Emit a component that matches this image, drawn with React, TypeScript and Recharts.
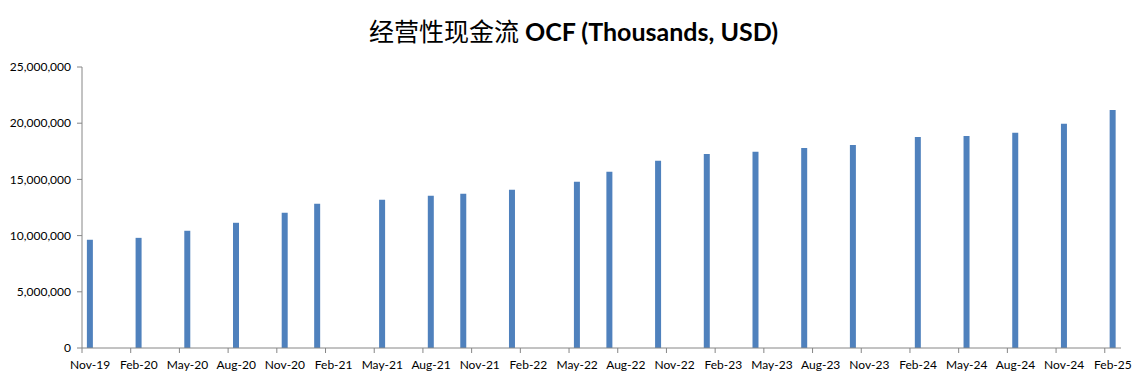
import React from "react";
import { BarChart, Bar, XAxis, YAxis } from "recharts";

// Month index from Nov-19 (0) ... Feb-25 (63)
const monthIndex = [0, 3, 6, 9, 12, 14, 18, 21, 23, 26, 30, 32, 35, 38, 41, 44, 47, 51, 54, 57, 60, 63];
const ocfValues = [
  9630000, 9800000, 10430000, 11140000, 12030000, 12830000, 13190000, 13540000,
  13720000, 14070000, 14780000, 15670000, 16650000, 17270000, 17450000, 17800000,
  18070000, 18780000, 18870000, 19140000, 19940000, 21180000,
];
const tickLabels = [
  "Nov-19", "Feb-20", "May-20", "Aug-20", "Nov-20", "Feb-21", "May-21", "Aug-21",
  "Nov-21", "Feb-22", "May-22", "Aug-22", "Nov-22", "Feb-23", "May-23", "Aug-23",
  "Nov-23", "Feb-24", "May-24", "Aug-24", "Nov-24", "Feb-25",
];
const tickIndex = tickLabels.map((_, i) => i * 3);
const yTicks = [0, 5000000, 10000000, 15000000, 20000000, 25000000];
const TOTAL_MONTHS = 64;

const data = monthIndex.map((m, i) => ({ m: m + 0.5, v: ocfValues[i] }));

const W = 1147;
const H = 389;
const LEFT = 82;
const RIGHT = 26;
const slotPx = (W - LEFT - RIGHT) / TOTAL_MONTHS;

const FONT = "Lato, 'Open Sans', sans-serif";

const XTick = (props: any) => {
  const { x, y, payload } = props;
  const idx = Math.round(payload.value / 3);
  return (
    <text
      x={x + slotPx / 2}
      y={y + 4}
      textAnchor="middle"
      dominantBaseline="hanging"
      fontFamily={FONT}
      fontSize={12}
      fill="#000"
    >
      {tickLabels[idx]}
    </text>
  );
};

export default function App() {
  return (
    <div style={{ position: "absolute", left: 0, top: 0, width: W, height: H, background: "#fff" }}>
      <div
        style={{
          position: "absolute",
          left: 0,
          top: 12,
          width: W,
          textAlign: "center",
          fontSize: 25,
          color: "#000",
          whiteSpace: "nowrap",
        }}
      >
        <span style={{ fontFamily: "'Noto Sans CJK SC', sans-serif" }}>经营性现金流</span>
        <span style={{ fontFamily: FONT, fontWeight: 700 }}> OCF (Thousands, USD)</span>
      </div>
      <BarChart
        width={W}
        height={H}
        data={data}
        margin={{ top: 67, right: RIGHT, bottom: 11, left: 0 }}
        style={{ position: "absolute", left: 0, top: 0 }}
      >
        <XAxis
          dataKey="m"
          type="number"
          domain={[0, TOTAL_MONTHS]}
          ticks={tickIndex}
          interval={0}
          height={30}
          tick={<XTick />}
          tickSize={5}
          axisLine={{ stroke: "#868686" }}
          tickLine={{ stroke: "#868686" }}
          allowDecimals={false}
        />
        <YAxis
          type="number"
          domain={[0, 25000000]}
          ticks={yTicks}
          width={LEFT}
          tickSize={5}
          tickMargin={6}
          interval={0}
          axisLine={{ stroke: "#868686" }}
          tickLine={{ stroke: "#868686" }}
          tick={{ fontFamily: FONT, fontSize: 12, fill: "#000" }}
          tickFormatter={(v: number) => v.toLocaleString("en-US")}
        />
        <Bar dataKey="v" fill="#4F81BD" barSize={6} isAnimationActive={false} />
      </BarChart>
    </div>
  );
}
